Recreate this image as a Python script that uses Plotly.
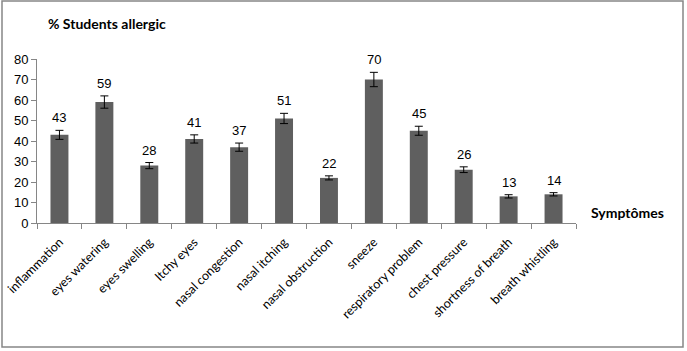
import plotly.graph_objects as go

categories = ["inflammation", "eyes watering", "eyes swelling", "Itchy eyes",
              "nasal congestion", "nasal itching", "nasal obstruction", "sneeze",
              "respiratory problem", "chest pressure", "shortness of breath",
              "breath whistling"]
values = [43, 59, 28, 41, 37, 51, 22, 70, 45, 26, 13, 14]
errors = [2.2, 3.0, 1.5, 2.0, 2.0, 2.5, 1.0, 3.5, 2.2, 1.4, 0.8, 0.8]
y_ticks = [0, 10, 20, 30, 40, 50, 60, 70, 80]

W, H = 687, 351
ML, MR, MT, MB = 37, 111, 59, 128
pw, ph = W - ML - MR, H - MT - MB


def px_x(x):
    return (x - ML) / pw


def px_y(y):
    return (H - MB - y) / ph


fig = go.Figure()
fig.add_trace(go.Bar(
    x=categories, y=values,
    marker=dict(color="#5f5f5f", line=dict(width=0)),
    width=0.4,
    error_y=dict(type="data", array=errors, color="#000000", thickness=1, width=4),
))

for c, v, e in zip(categories, values, errors):
    fig.add_annotation(x=c, y=v + e, text=str(v), showarrow=False,
                       yanchor="bottom", yshift=3,
                       font=dict(family="Liberation Sans, Arial", size=13, color="#000"))

fig.add_annotation(xref="paper", yref="paper", x=px_x(46), y=px_y(23),
                   text="<b>% Students allergic</b>", showarrow=False,
                   xanchor="left", yanchor="middle",
                   font=dict(family="Lato, Open Sans", size=14, color="#000"))
fig.add_annotation(xref="paper", yref="paper", x=px_x(589), y=px_y(212),
                   text="<b>Symptômes</b>", showarrow=False,
                   xanchor="left", yanchor="middle",
                   font=dict(family="Lato, Open Sans", size=14, color="#000"))

# outer border
fig.add_shape(type="rect", xref="paper", yref="paper",
              x0=px_x(2), x1=px_x(683), y0=px_y(347), y1=px_y(1),
              line=dict(color="#868686", width=1.5), fillcolor="rgba(0,0,0,0)", layer="below")

fig.update_layout(
    width=W, height=H,
    margin=dict(l=ML, r=MR, t=MT, b=MB, autoexpand=False),
    paper_bgcolor="white", plot_bgcolor="white",
    showlegend=False,
    bargap=0.6,
    xaxis=dict(type="category", showline=True, linecolor="#868686", linewidth=1,
               ticks="outside", tickson="boundaries", ticklen=5, tickcolor="#868686",
               tickangle=-45, showgrid=False, automargin=False, ticklabelstandoff=6,
               tickfont=dict(family="Lato, Open Sans", size=12.5, color="#000")),
    yaxis=dict(range=[0, 80], tickvals=y_ticks, showline=True, linecolor="#868686",
               linewidth=1, ticks="outside", ticklen=5, tickcolor="#868686",
               showgrid=False, zeroline=False, automargin=False,
               tickfont=dict(family="Liberation Sans, Arial", size=13, color="#000")),
)

fig.write_html("out.html")
